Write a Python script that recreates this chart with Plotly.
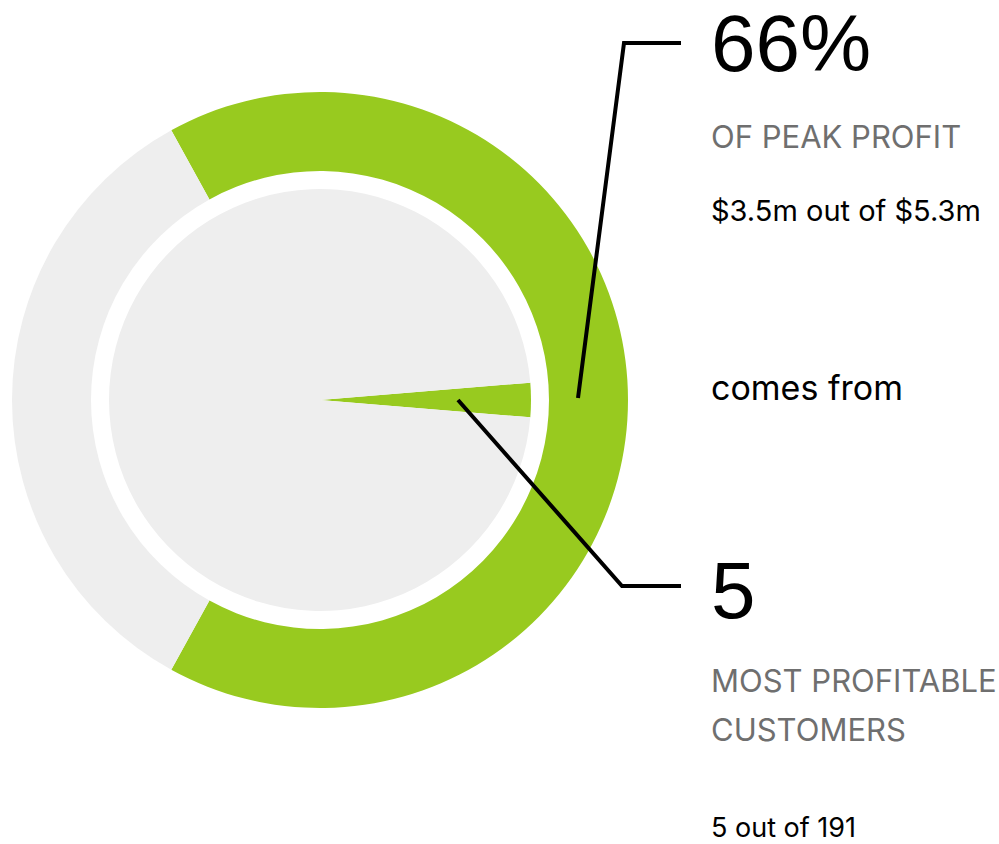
import plotly.graph_objects as go

# dados
profit_labels = ["Top 5 customers", "Others"]
profit_values = [3.5, 1.8]          # $m, out of 5.3
customer_labels = ["Top 5", "Others"]
customer_values = [5, 186]          # 5 out of 191

GREEN = "#98CA1F"
GRAY = "#EEEEEE"
W, H = 999, 844

# centro e raios (pixels)
cx, cy = 320, 400
r_outer, r_hole, r_inner = 308, 229, 211


def dom(r):
    return dict(
        x=[(cx - r) / W, (cx + r) / W],
        y=[(H - cy - r) / H, (H - cy + r) / H],
    )


def start_angle(values):
    # fatia principal centrada em 3 horas
    frac = values[0] / sum(values)
    return 90 - frac * 360 / 2


fig = go.Figure()

fig.add_trace(go.Pie(
    labels=profit_labels, values=profit_values,
    hole=r_hole / r_outer, sort=False, direction="clockwise",
    rotation=start_angle(profit_values),
    marker=dict(colors=[GREEN, GRAY], line=dict(width=0)),
    textinfo="none", hoverinfo="label+value", domain=dom(r_outer),
    showlegend=False,
))

fig.add_trace(go.Pie(
    labels=customer_labels, values=customer_values,
    sort=False, direction="clockwise",
    rotation=start_angle(customer_values),
    marker=dict(colors=[GREEN, GRAY], line=dict(width=0)),
    textinfo="none", hoverinfo="label+value", domain=dom(r_inner),
    showlegend=False,
))

# linhas de chamada
lines = [
    "M 681 43 L 624 43 L 578 398",
    "M 458 400 L 622 586 L 681 586",
]
for p in lines:
    fig.add_shape(type="path", path=p, xref="x", yref="y",
                  line=dict(color="black", width=4))

BODY = "Inter"
texts = [
    ("66%", 43, "Liberation Sans", 80, "black"),
    ("OF PEAK PROFIT", 136, BODY, 31, "#6F6F6F"),
    ("$3.5m out of $5.3m", 210, BODY, 29, "black"),
    ("comes from", 387, BODY, 34, "black"),
    ("5", 590, "Liberation Sans", 80, "black"),
    ("MOST PROFITABLE", 680, BODY, 31, "#6F6F6F"),
    ("CUSTOMERS", 729, BODY, 31, "#6F6F6F"),
    ("5 out of 191", 827, BODY, 27, "black"),
]
for t, y, fam, size, col in texts:
    fig.add_annotation(x=709, y=y, xref="x", yref="y", text=t,
                       showarrow=False, xanchor="left", yanchor="middle",
                       font=dict(family=fam, size=size, color=col))

fig.update_layout(
    width=W, height=H,
    margin=dict(l=0, r=0, t=0, b=0),
    paper_bgcolor="white", plot_bgcolor="rgba(0,0,0,0)",
    xaxis=dict(range=[0, W], visible=False, fixedrange=True),
    yaxis=dict(range=[H, 0], visible=False, fixedrange=True),
    showlegend=False,
)

fig.write_html("out.html", config={"displayModeBar": False},
               post_script="document.body.style.margin='0';")
